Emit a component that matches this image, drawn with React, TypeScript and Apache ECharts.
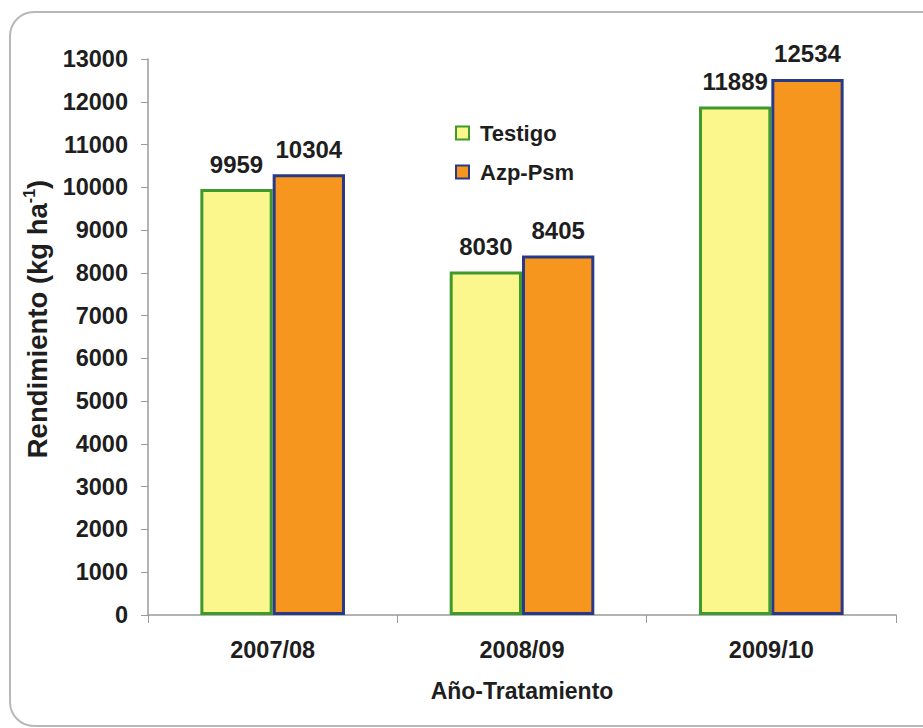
import React, { useEffect, useRef } from "react";
import * as echarts from "echarts";

const categories = ["2007/08", "2008/09", "2009/10"];
const testigo = [9959, 8030, 11889];
const azpPsm = [10304, 8405, 12534];
const seriesNames = ["Testigo", "Azp-Psm"];

const FONT = "'Liberation Sans', Arial, sans-serif";
const TXT = "#1e1e1e";

export default function App() {
  const ref = useRef<HTMLDivElement>(null);
  useEffect(() => {
    if (!ref.current) return;
    const chart = echarts.init(ref.current, undefined, { renderer: "svg" });
    const labelCfg = {
      show: true,
      position: "top" as const,
      distance: 13,
      color: TXT,
      fontFamily: FONT,
      fontWeight: "bold" as const,
      fontSize: 24,
    };
    chart.setOption({
      animation: false,
      backgroundColor: "#ffffff",
      graphic: [
        {
          type: "rect",
          z: -10,
          shape: { x: 10, y: 12, width: 960, height: 714, r: 24 },
          style: { fill: "#ffffff", stroke: "#b8b8b8", lineWidth: 2 },
        },
        {
          type: "text",
          x: 37,
          y: 319,
          rotation: Math.PI / 2,
          style: {
            text: "{m|Rendimiento (kg ha}{s|-1}{m|)}",
            align: "center",
            verticalAlign: "middle",
            fill: TXT,
            rich: {
              m: { fontFamily: FONT, fontWeight: "bold", fontSize: 27.5, fill: TXT, lineHeight: 32 },
              s: { fontFamily: FONT, fontWeight: "bold", fontSize: 16, fill: TXT, verticalAlign: "top", lineHeight: 32, padding: [0, 0, 14, 0] },
            },
          },
        },
      ],
      grid: { left: 148, right: 27, top: 59, bottom: 113 },
      legend: {
        orient: "vertical",
        left: 450,
        top: 117,
        itemWidth: 13,
        itemHeight: 13,
        itemGap: 17,
        icon: "rect",
        data: seriesNames,
        textStyle: { fontFamily: FONT, fontWeight: "bold", fontSize: 22, color: TXT, padding: [0, 0, 0, 6] },
      },
      xAxis: {
        type: "category",
        data: categories,
        name: "Año-Tratamiento",
        nameLocation: "middle",
        nameGap: 64,
        nameTextStyle: { fontFamily: FONT, fontWeight: "bold", fontSize: 23, color: TXT },
        axisLine: { lineStyle: { color: "#9a9a9a", width: 1.5 } },
        axisTick: { show: true, length: 8, lineStyle: { color: "#9a9a9a" } },
        axisLabel: { margin: 23, fontFamily: FONT, fontWeight: "bold", fontSize: 23.5, color: TXT },
      },
      yAxis: {
        type: "value",
        min: 0,
        max: 13000,
        interval: 1000,
        axisLine: { show: true, lineStyle: { color: "#9a9a9a", width: 1.5 } },
        axisTick: { show: true, length: 7, lineStyle: { color: "#9a9a9a" } },
        splitLine: { show: false },
        axisLabel: {
          margin: 20,
          fontFamily: FONT,
          fontWeight: "bold",
          fontSize: 23.5,
          color: TXT,
          formatter: (v: number) => String(v),
        },
      },
      series: [
        {
          name: seriesNames[0],
          type: "bar",
          data: testigo,
          barGap: "0%",
          barCategoryGap: "42%",
          itemStyle: { color: "#fbf78c", borderColor: "#3f9a2c", borderWidth: 3 },
          label: labelCfg,
        },
        {
          name: seriesNames[1],
          type: "bar",
          data: azpPsm,
          barGap: "0%",
          barCategoryGap: "42%",
          itemStyle: { color: "#f7961f", borderColor: "#283a86", borderWidth: 3 },
          label: labelCfg,
        },
      ],
    });
    return () => chart.dispose();
  }, []);
  return (
    <div
      ref={ref}
      style={{ position: "fixed", left: 0, top: 0, width: 923, height: 728 }}
    />
  );
}
